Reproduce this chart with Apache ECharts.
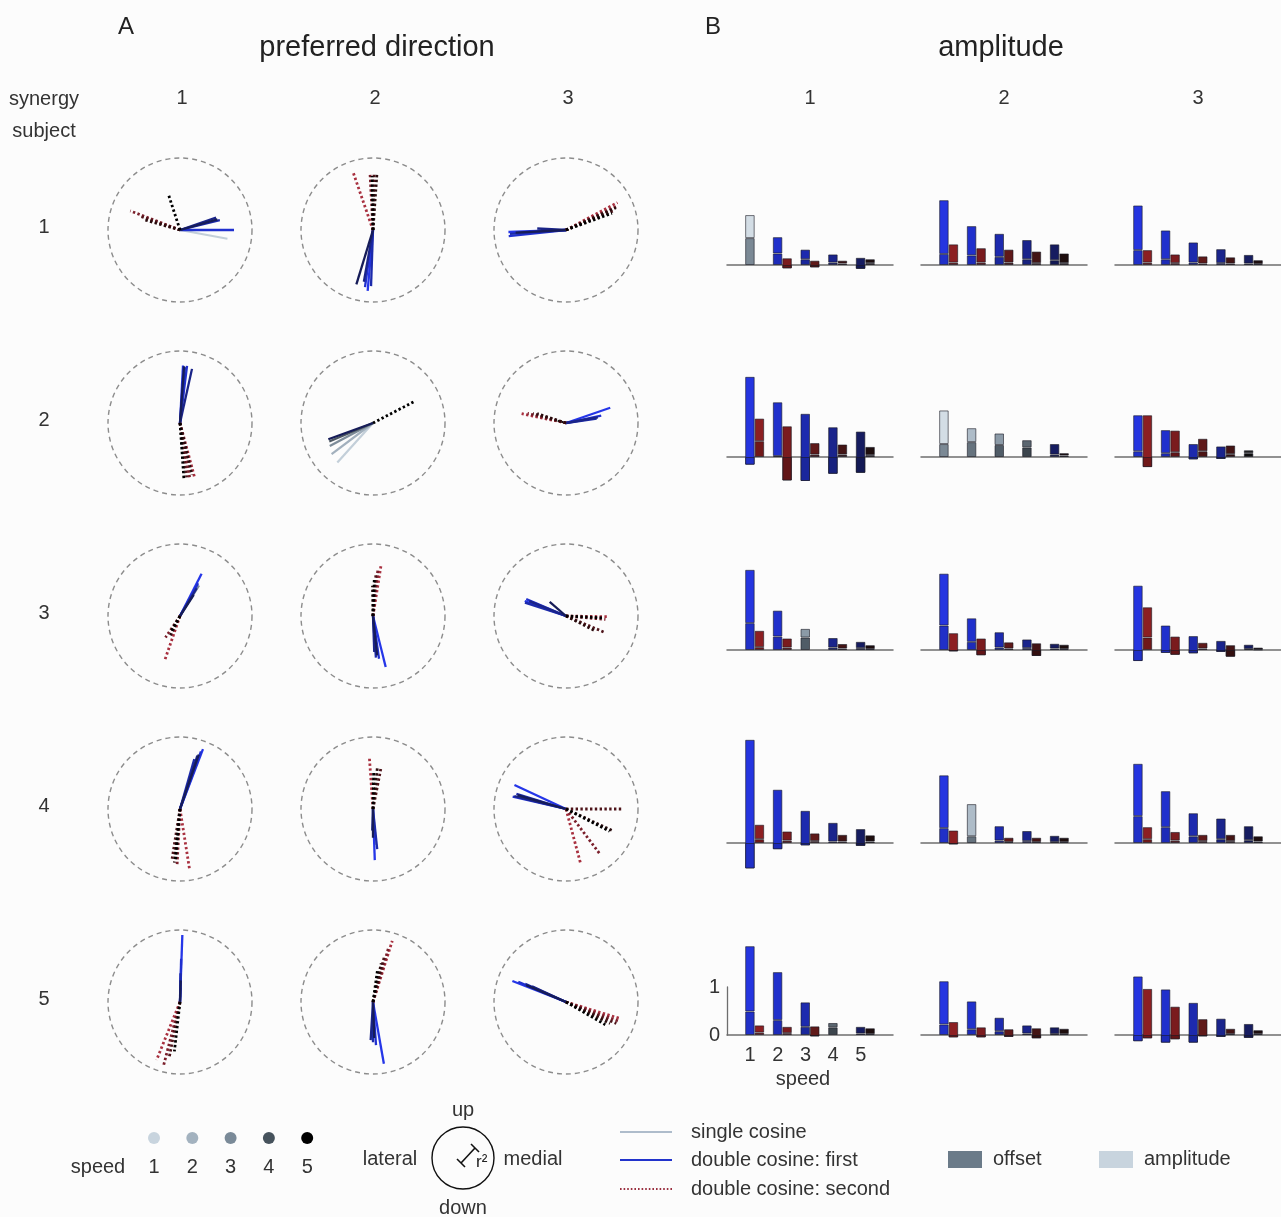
<!DOCTYPE html>
<html>
<head>
<meta charset="utf-8">
<script src="https://cdn.jsdelivr.net/npm/echarts@6/dist/echarts.min.js"></script>
<style>
  html, body { margin: 0; padding: 0; background: #fcfcfc; }
  #chart { width: 1281px; height: 1217px; }
</style>
</head>
<body>
<div id="chart"></div>
<script>
// Panels are listed subject by subject (rows), synergy 1..3 within each subject (columns).
const subjects = ['1', '2', '3', '4', '5'];
const synergies = ['1', '2', '3'];
const speeds = [1, 2, 3, 4, 5];

// Preferred direction (deg; 0 = medial, 90 = up) and r² of the first cosine
// (or of the single cosine where no second cosine was fitted).
const firstAngle = [
  [-10.5, 0, 14, 19, 16],
  [265, 262, 268, 260, 253],
  [182, 186, 184, 177, 183],
  [87, 83, 85, 77.5, 86],
  [228, 217, 208, 203, 200],
  [19, 12, 8, 10, 165],
  [63, 61, 58, 59, 57],
  [284, 278, 274, 272, 276],
  [160, 157, 162, 158, 139],
  [69, 70, 74, 72, 71],
  [272, 275, 276, 268, 270],
  [155, 167, 163, 166, 164],
  [88, 88.5, 89, 87, 88],
  [280, 274, 270, 266.5, 272],
  [158.6, 157, 156, 155, 157]
];
const firstR2 = [
  [0.67, 0.75, 0.57, 0.53, 0.54],
  [0.85, 0.8, 0.78, 0.73, 0.79],
  [0.8, 0.8, 0.78, 0.4, 0.7],
  [0.8, 0.8, 0.78, 0.77, 0.79],
  [0.74, 0.72, 0.68, 0.66, 0.66],
  [0.65, 0.5, 0.43, 0.45, 0.12],
  [0.66, 0.52, 0.5, 0.45, 0.35],
  [0.73, 0.6, 0.58, 0.5, 0.55],
  [0.61, 0.6, 0.6, 0.55, 0.3],
  [0.89, 0.85, 0.72, 0.78, 0.8],
  [0.71, 0.5, 0.56, 0.3, 0.4],
  [0.79, 0.76, 0.72, 0.74, 0.7],
  [0.93, 0.6, 0.4, 0.2, 0.3],
  [0.87, 0.6, 0.56, 0.53, 0.5],
  [0.8, 0.72, 0.62, 0.52, 0.6]
];
// Second cosine of the double-cosine fit; null where a single cosine was used.
const secondAngle = [
  [null, 159, 161, 164, 108],
  [109, 93, 89, 86, 91],
  [28, 25, 22, 24, 20],
  [285, 280, 277, 283, 274],
  [null, null, null, null, 27.5],
  [168, 166, 164, 162, null],
  [251, 236, null, 244, 240],
  [81, 84, 86, 91, 88],
  [-1, -5, -23, -27, -3],
  [279, 267, 261, 264, 265],
  [94, null, 79, 84, 89],
  [-75, -53, 0, -25, -27],
  [248, 255.5, 259, null, 263.5],
  [72.5, 74, 76, 78, 82],
  [-17, -20, -23, -26, -30]
];
const secondR2 = [
  [null, 0.74, 0.6, 0.52, 0.52],
  [0.84, 0.78, 0.78, 0.78, 0.75],
  [0.81, 0.78, 0.72, 0.76, 0.68],
  [0.79, 0.78, 0.76, 0.74, 0.79],
  [null, null, null, null, 0.65],
  [0.63, 0.55, 0.48, 0.42, null],
  [0.65, 0.36, null, 0.3, 0.25],
  [0.73, 0.66, 0.6, 0.42, 0.5],
  [0.59, 0.55, 0.58, 0.46, 0.5],
  [0.86, 0.79, 0.72, 0.75, 0.7],
  [0.73, null, 0.58, 0.57, 0.5],
  [0.78, 0.8, 0.78, 0.7, 0.68],
  [0.87, 0.9, 0.79, null, 0.69],
  [0.89, 0.8, 0.65, 0.55, 0.45],
  [0.78, 0.77, 0.76, 0.68, 0.63]
];

// Offset and offset + amplitude of each cosine.
const firstOffset = [
  [0.56, 0.24, 0.12, 0.05, -0.08],
  [0.23, 0.2, 0.17, 0.12, 0.1],
  [0.31, 0.12, 0.05, 0.04, 0.03],
  [-0.16, 0.02, -0.5, -0.35, -0.33],
  [0.27, 0.31, 0.25, 0.2, 0.05],
  [0.12, 0.08, -0.05, -0.04, 0.08],
  [0.56, 0.28, 0.26, 0.05, 0.04],
  [0.51, 0.17, 0.05, 0.04, 0.03],
  [-0.23, -0.06, -0.07, -0.04, 0.02],
  [-0.53, -0.13, -0.05, 0.03, -0.06],
  [0.31, 0.14, 0.05, 0.04, 0.02],
  [0.56, 0.33, 0.14, 0.08, 0.06],
  [0.49, 0.31, 0.17, 0.16, 0.03],
  [0.22, 0.12, 0.08, 0.03, 0.02],
  [-0.13, -0.16, -0.16, -0.04, -0.06]
];
const firstTop = [
  [1.04, 0.58, 0.32, 0.22, 0.15],
  [1.35, 0.81, 0.65, 0.52, 0.43],
  [1.24, 0.72, 0.47, 0.33, 0.21],
  [1.67, 1.14, 0.9, 0.62, 0.53],
  [0.97, 0.6, 0.49, 0.35, 0.27],
  [0.87, 0.56, 0.27, 0.22, 0.14],
  [1.67, 0.82, 0.44, 0.25, 0.17],
  [1.59, 0.66, 0.37, 0.22, 0.13],
  [1.34, 0.51, 0.29, 0.19, 0.11],
  [2.15, 1.11, 0.67, 0.42, 0.29],
  [1.41, 0.81, 0.35, 0.25, 0.15],
  [1.65, 1.08, 0.62, 0.51, 0.35],
  [1.85, 1.31, 0.68, 0.25, 0.17],
  [1.12, 0.7, 0.36, 0.2, 0.16],
  [1.22, 0.95, 0.67, 0.34, 0.23]
];
const secondOffset = [
  [null, -0.07, -0.05, 0.03, 0.04],
  [0.05, 0.05, 0.05, 0.04, 0.04],
  [0.05, 0.04, 0.03, 0.03, 0.02],
  [0.33, -0.49, 0.05, 0.05, 0.04],
  [null, null, null, null, 0.03],
  [-0.21, 0.1, 0.12, 0.06, null],
  [0.06, 0.05, null, 0.03, 0.02],
  [-0.03, -0.11, 0.03, -0.125, 0.02],
  [0.26, -0.1, 0.03, -0.14, 0.01],
  [0.08, 0.05, 0.04, 0.03, 0.03],
  [-0.03, null, 0.02, 0.02, 0.02],
  [0.08, 0.05, 0.04, 0.04, 0.03],
  [0.05, 0.04, -0.03, null, 0.02],
  [-0.05, -0.05, -0.04, -0.07, 0.02],
  [-0.07, -0.09, -0.03, 0.02, 0.02]
];
const secondTop = [
  [null, 0.14, 0.09, 0.09, 0.12],
  [0.43, 0.35, 0.32, 0.28, 0.24],
  [0.31, 0.22, 0.18, 0.16, 0.1],
  [0.8, 0.64, 0.29, 0.26, 0.21],
  [null, null, null, null, 0.08],
  [0.87, 0.55, 0.38, 0.24, null],
  [0.4, 0.24, null, 0.125, 0.1],
  [0.35, 0.24, 0.16, 0.14, 0.11],
  [0.89, 0.28, 0.15, 0.1, 0.05],
  [0.38, 0.24, 0.2, 0.17, 0.16],
  [0.26, null, 0.11, 0.11, 0.11],
  [0.33, 0.23, 0.17, 0.17, 0.14],
  [0.2, 0.17, 0.18, null, 0.14],
  [0.27, 0.16, 0.12, 0.14, 0.13],
  [0.96, 0.59, 0.33, 0.13, 0.1]
];

// ---- styling ----
const FONT = '"Liberation Sans", Arial, sans-serif';
const TEXT = '#333';
const speedShade = ['#c8d4de', '#a3b2bf', '#7a8a98', '#46525c', '#000000'];
const singleLine = ['#c3cfd9', '#a2b0bd', '#7d8c99', '#4c5761', '#151515'];
const firstLine = ['#2536e8', '#2030cf', '#1c2aab', '#1a2488', '#161c58'];
const secondLine = ['#a8303f', '#7a1f2b', '#4e141a', '#2a0c0e', '#000000'];
const firstAmpC = ['#2535e0', '#2030cc', '#1d2aae', '#1a248c', '#161c60'];
const firstOffC = ['#2030c8', '#1d2bb8', '#1a279c', '#17217e', '#131955'];
const secondAmpC = ['#8c1f22', '#7a1b1e', '#5f1919', '#431414', '#1e0e0e'];
const secondOffC = ['#701819', '#621517', '#4c1313', '#330f0f', '#140808'];
const singleAmpC = ['#d3dde5', '#aebcc8', '#8b9aa7', '#5b6670', '#222222'];
const singleOffC = ['#7b8995', '#66737e', '#505c67', '#3c454d', '#0e0e0e'];

// ---- layout ----
const polarCx = [180, 373, 566];
const rowCy = [230, 423, 616, 809, 1002];
const barLeft = [727, 921, 1115];
const baseY = [265, 457, 650, 843, 1035];
const UNIT = 48;            // px per amplitude unit
const Y_MIN = -1, Y_MAX = 2.5;
// speed categories padded by an empty slot at each end so the baseline runs past the bars
const xCats = [''].concat(speeds.map(String), ['']);

const polar = [], angleAxis = [], radiusAxis = [];
const grid = [], xAxis = [], yAxis = [], series = [];
const norm = a => ((a % 360) + 360) % 360;

function ray(p, angle, r2, color, lineType, width, z) {
  const a = norm(angle);
  series.push({
    type: 'line', coordinateSystem: 'polar', polarIndex: p,
    data: [[0, a], [r2, a]], symbol: 'none', silent: true, animation: false,
    lineStyle: { color: color, width: width, type: lineType, cap: 'butt' }, z: z
  });
}

subjects.forEach((subj, r) => {
  synergies.forEach((syn, c) => {
    const p = r * 3 + c;
    // --- preferred direction panel ---
    polar.push({ center: [polarCx[c], rowCy[r]], radius: 72 });
    angleAxis.push({
      polarIndex: p, type: 'value', min: 0, max: 360, startAngle: 0, clockwise: false,
      axisLine: { show: true, lineStyle: { color: '#8c8c8c', width: 1.4, type: [5, 4] } },
      axisTick: { show: false }, axisLabel: { show: false }, splitLine: { show: false }
    });
    radiusAxis.push({
      polarIndex: p, type: 'value', min: 0, max: 1,
      axisLine: { show: false }, axisTick: { show: false },
      axisLabel: { show: false }, splitLine: { show: false }
    });
    speeds.forEach((s, i) => {
      const single = secondAngle[p][i] === null;
      if (single) {
        ray(p, firstAngle[p][i], firstR2[p][i], singleLine[i], 'solid', 2.2, 2 + i * 0.1);
      } else {
        ray(p, firstAngle[p][i], firstR2[p][i], firstLine[i], 'solid', 2.3, 3 + i * 0.1);
        ray(p, secondAngle[p][i], secondR2[p][i], secondLine[i], [2.4, 2.4], 2.8, 4 + i * 0.1);
      }
    });

    // --- amplitude panel ---
    const g = p;
    grid.push({
      left: barLeft[c], top: baseY[r] - Y_MAX * UNIT,
      width: 166, height: (Y_MAX - Y_MIN) * UNIT
    });
    xAxis.push({
      gridIndex: g, type: 'category', data: xCats, boundaryGap: false,
      axisLine: { show: true, onZero: true, lineStyle: { color: '#6e6e6e', width: 1.5 } },
      axisTick: { show: false }, splitLine: { show: false }, axisLabel: { show: false }
    });
    yAxis.push({ gridIndex: g, type: 'value', min: Y_MIN, max: Y_MAX, show: false });

    const fOff = ['-'], fAmp = ['-'], sOff = ['-'], sAmp = ['-'];
    speeds.forEach((s, i) => {
      const single = secondAngle[p][i] === null;
      const o1 = firstOffset[p][i], t1 = firstTop[p][i];
      fOff.push({ value: o1, itemStyle: { color: single ? singleOffC[i] : firstOffC[i] } });
      fAmp.push({ value: +(t1 - o1).toFixed(4), itemStyle: { color: single ? singleAmpC[i] : firstAmpC[i] } });
      if (single) {
        sOff.push('-');
        sAmp.push('-');
      } else {
        const o2 = secondOffset[p][i], t2 = secondTop[p][i];
        sOff.push({ value: o2, itemStyle: { color: secondOffC[i] } });
        sAmp.push({ value: +(t2 - o2).toFixed(4), itemStyle: { color: secondAmpC[i] } });
      }
    });
    fOff.push('-'); fAmp.push('-'); sOff.push('-'); sAmp.push('-');
    const barBase = {
      type: 'bar', xAxisIndex: g, yAxisIndex: g, stackStrategy: 'all',
      barWidth: 9.5, barGap: '0%', silent: true, animation: false,
      itemStyle: { borderColor: 'rgba(25,25,35,0.6)', borderWidth: 1 }
    };
    series.push(Object.assign({}, barBase, { stack: 'first' + g, data: fOff, z: 3 }));
    series.push(Object.assign({}, barBase, { stack: 'first' + g, data: fAmp, z: 2 }));
    series.push(Object.assign({}, barBase, { stack: 'second' + g, data: sOff, z: 3 }));
    series.push(Object.assign({}, barBase, { stack: 'second' + g, data: sAmp, z: 2 }));
  });
});

// amplitude scale (0 to 1) and speed labels beside the bottom-left amplitude panel
const sg = grid.length;
grid.push({ left: barLeft[0], top: baseY[4] - UNIT, width: 166, height: UNIT });
xAxis.push({
  gridIndex: sg, type: 'category', data: xCats, boundaryGap: false,
  axisLine: { show: false }, axisTick: { show: false }, splitLine: { show: false },
  axisLabel: { show: true, interval: 0, fontSize: 20, fontFamily: FONT, color: TEXT,
               margin: 10, padding: [0, 9, 0, 0] }
});
yAxis.push({
  gridIndex: sg, type: 'value', min: 0, max: 1, interval: 1,
  axisLine: { show: true, lineStyle: { color: '#6e6e6e', width: 1.3 } },
  axisTick: { show: false }, splitLine: { show: false },
  axisLabel: { fontSize: 20, fontFamily: FONT, color: TEXT, margin: 7 }
});

// ---- text and legend ----
function txt(text, x, y, size, align, color) {
  return {
    type: 'text', x: x, y: y, silent: true,
    style: { text: text, fontSize: size, fontFamily: FONT, fill: color || TEXT,
             align: align || 'center', verticalAlign: 'middle' }
  };
}
const G = [];
G.push(txt('A', 126, 27, 24, 'center', '#222'));
G.push(txt('preferred direction', 377, 48, 29, 'center', '#222'));
G.push(txt('B', 713, 27, 24, 'center', '#222'));
G.push(txt('amplitude', 1001, 48, 29, 'center', '#222'));
G.push(txt('synergy', 44, 99, 20));
G.push(txt('subject', 44, 131, 20));
synergies.forEach((syn, c) => {
  G.push(txt(syn, polarCx[c] + 2, 98, 20));
  G.push(txt(syn, barLeft[c] + 83, 98, 20));
});
subjects.forEach((subj, r) => G.push(txt(subj, 44, rowCy[r] - 3, 20)));
G.push(txt('speed', 803, 1079, 20));

// speed shading key
G.push(txt('speed', 98, 1167, 20));
speeds.forEach((s, i) => {
  const x = 154 + i * 38.3;
  G.push({ type: 'circle', silent: true, shape: { cx: x, cy: 1138, r: 6 }, style: { fill: speedShade[i] } });
  G.push(txt(String(s), x, 1167, 20));
});

// orientation key
G.push({ type: 'circle', silent: true, shape: { cx: 463, cy: 1158, r: 31 },
         style: { fill: 'none', stroke: '#111', lineWidth: 1.4 } });
G.push({ type: 'line', silent: true, shape: { x1: 461, y1: 1163, x2: 475, y2: 1148 },
         style: { stroke: '#111', lineWidth: 1.6 } });
G.push({ type: 'line', silent: true, shape: { x1: 471, y1: 1144, x2: 479, y2: 1152 },
         style: { stroke: '#111', lineWidth: 1.6 } });
G.push({ type: 'line', silent: true, shape: { x1: 457, y1: 1159, x2: 465, y2: 1167 },
         style: { stroke: '#111', lineWidth: 1.6 } });
G.push(txt('r²', 476, 1162, 17, 'left', '#222'));
G.push(txt('up', 463, 1110, 20));
G.push(txt('down', 463, 1208, 20));
G.push(txt('lateral', 390, 1159, 20));
G.push(txt('medial', 533, 1159, 20));

// line key
G.push({ type: 'line', silent: true, shape: { x1: 620, y1: 1132, x2: 672, y2: 1132 },
         style: { stroke: '#aebccb', lineWidth: 2 } });
G.push({ type: 'line', silent: true, shape: { x1: 620, y1: 1160, x2: 672, y2: 1160 },
         style: { stroke: '#2233cc', lineWidth: 2 } });
G.push({ type: 'line', silent: true, shape: { x1: 620, y1: 1189, x2: 672, y2: 1189 },
         style: { stroke: '#9a3040', lineWidth: 2, lineDash: [1.6, 2] } });
G.push(txt('single cosine', 691, 1132, 20, 'left'));
G.push(txt('double cosine: first', 691, 1160, 20, 'left'));
G.push(txt('double cosine: second', 691, 1189, 20, 'left'));

// bar key
G.push({ type: 'rect', silent: true, shape: { x: 948, y: 1151, width: 34, height: 17 },
         style: { fill: '#6b7b89' } });
G.push(txt('offset', 993, 1159, 20, 'left'));
G.push({ type: 'rect', silent: true, shape: { x: 1099, y: 1151, width: 34, height: 17 },
         style: { fill: '#c8d4de' } });
G.push(txt('amplitude', 1144, 1159, 20, 'left'));

const chart = echarts.init(document.getElementById('chart'), null, { renderer: 'canvas' });
chart.setOption({
  backgroundColor: '#fcfcfc',
  animation: false,
  polar: polar,
  angleAxis: angleAxis,
  radiusAxis: radiusAxis,
  grid: grid,
  xAxis: xAxis,
  yAxis: yAxis,
  series: series,
  graphic: { elements: G }
});
</script>
</body>
</html>
